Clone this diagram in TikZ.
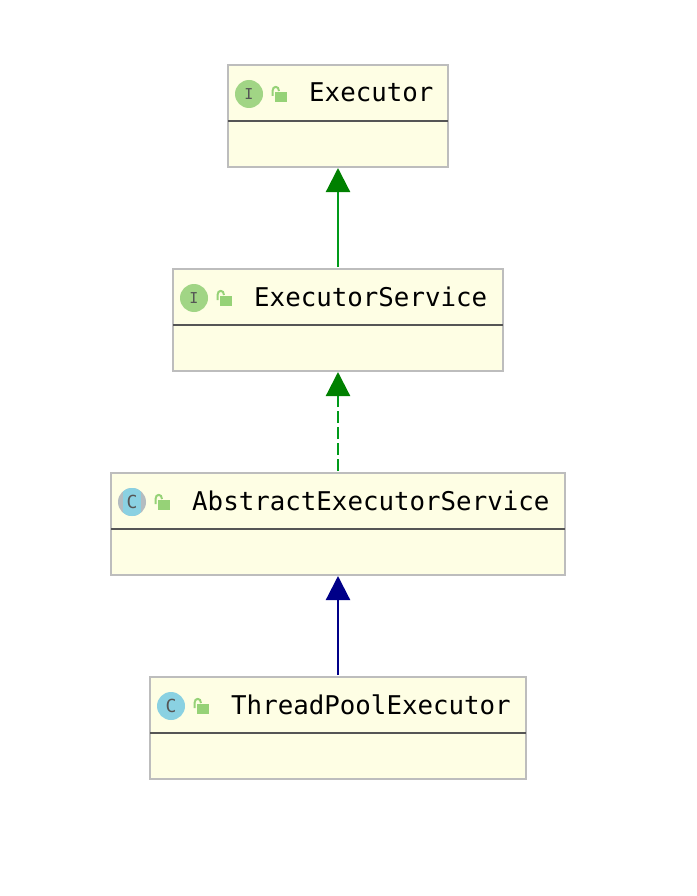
\documentclass[tikz,border=0pt]{standalone}
\usepackage{fontspec}
\setmonofont{DejaVu Sans Mono}
\usetikzlibrary{arrows.meta, positioning}

\definecolor{boxfill}{HTML}{FEFEE4}
\definecolor{boxline}{HTML}{BDBDBD}
\definecolor{divline}{HTML}{555555}
\definecolor{ifacegreen}{HTML}{A1D585}
\definecolor{classblue}{HTML}{8AD1E2}
\definecolor{abstractgrey}{HTML}{B4BCC0}
\definecolor{lockgreen}{HTML}{96D277}
\definecolor{inheritgreen}{HTML}{008000}
\definecolor{dashgreen}{HTML}{009A1A}
\definecolor{extendblue}{HTML}{000088}

\begin{document}
\begin{tikzpicture}[
  x=1pt, y=-1pt,
  node distance=102pt,
  cls/.style={rectangle, draw=boxline, fill=boxfill, line width=2.2pt, outer sep=0pt, minimum height=102pt},
  title/.style={anchor=base west, inner sep=0pt, font=\fontsize{25.8}{30}\selectfont\ttfamily},
  divider/.style={draw=divline, line width=2.2pt},
  badge/.style={circle, minimum size=28pt, inner sep=0pt, outer sep=0pt},
  letter/.style={inner sep=0pt, text=divline, font=\fontsize{15}{15}\selectfont\ttfamily},
  bigletter/.style={letter, font=\fontsize{18}{18}\selectfont\ttfamily},
  link/.style={line width=2.2pt, shorten >=1pt, shorten <=2pt, -{Triangle[length=24pt,width=24pt]}},
  lock/.pic={
    \fill[lockgreen] (26,-2) rectangle (38,8);
    \draw[lockgreen, line width=2pt] (23.5,2) -- (23.5,-3) .. controls (23.5,-8.5) and (30,-8.5) .. (30,-3);
  }
]
% Nodes
\node[cls, minimum width=220pt] (executor) at (338,116) {};
\node[cls, minimum width=330pt, below=of executor] (service) {};
\node[cls, minimum width=454pt, below=of service] (abstract) {};
\node[cls, minimum width=376pt, below=of abstract] (pool) {};

% Titles
\node[title] (executortitle) at ([shift={(81,37)}]executor.north west) {Executor};
\node[title] (servicetitle) at ([shift={(81,37)}]service.north west) {ExecutorService};
\node[title] (abstracttitle) at ([shift={(81,37)}]abstract.north west) {AbstractExecutorService};
\node[title] (pooltitle) at ([shift={(81,37)}]pool.north west) {ThreadPoolExecutor};

% Badges
\node[badge, fill=ifacegreen] (executorbadge) at ([shift={(21,29)}]executor.north west) {};
\node[letter] at (executorbadge) {I};
\pic at (executorbadge) {lock};
\node[badge, fill=ifacegreen] (servicebadge) at ([shift={(21,29)}]service.north west) {};
\node[letter] at (servicebadge) {I};
\pic at (servicebadge) {lock};
\node[badge, fill=abstractgrey] (abstractbadge) at ([shift={(21,29)}]abstract.north west) {};
\begin{scope}
  \clip (abstractbadge) circle (14pt);
  \fill[classblue] ([xshift=-9pt]abstractbadge.north) rectangle ([xshift=9pt]abstractbadge.south);
\end{scope}
\node[bigletter] at (abstractbadge) {C};
\pic at (abstractbadge) {lock};
\node[badge, fill=classblue] (poolbadge) at ([shift={(21,29)}]pool.north west) {};
\node[bigletter] at (poolbadge) {C};
\pic at (poolbadge) {lock};

% Dividers
\draw[divider] ([yshift=-56pt]executor.north west) -- ([yshift=-56pt]executor.north east);
\draw[divider] ([yshift=-56pt]service.north west) -- ([yshift=-56pt]service.north east);
\draw[divider] ([yshift=-56pt]abstract.north west) -- ([yshift=-56pt]abstract.north east);
\draw[divider] ([yshift=-56pt]pool.north west) -- ([yshift=-56pt]pool.north east);

% Arrows
\draw[link, draw=dashgreen, -{Triangle[length=24pt,width=24pt,color=inheritgreen]}] (service) -- (executor);
\draw[link, draw=dashgreen, dash pattern=on 12pt off 4pt, -{Triangle[length=24pt,width=24pt,color=inheritgreen]}] (abstract) -- (service);
\draw[link, draw=extendblue] (pool) -- (abstract);

\useasboundingbox (0,0) rectangle (696,896);
\end{tikzpicture}
\end{document}
